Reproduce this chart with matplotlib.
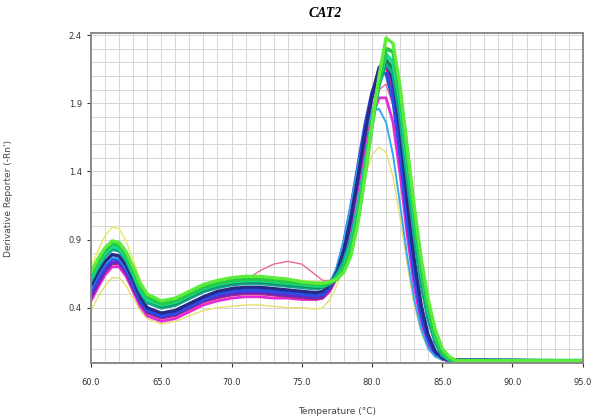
import matplotlib
matplotlib.use("Agg")
import matplotlib.pyplot as plt
from matplotlib.ticker import MultipleLocator, FormatStrFormatter

# temperature points (deg C) shared by all melt curves
temps = [60, 60.5, 61, 61.5, 62, 62.5, 63, 63.5, 64, 65, 66, 67, 68, 69, 70,
         71, 72, 73, 74, 75, 76, 76.5, 77, 77.5, 78, 78.5, 79, 79.5, 80, 80.5,
         81, 81.5, 82, 82.5, 83, 83.5, 84, 84.5, 85, 85.5, 86, 88, 90, 92, 95]

# derivative reporter values, one list per well colour
yellow_low = [0.38, 0.48, 0.56, 0.62, 0.62, 0.56, 0.47, 0.38, 0.32, 0.28, 0.30, 0.34, 0.38, 0.40, 0.41,
              0.42, 0.42, 0.41, 0.40, 0.40, 0.39, 0.40, 0.46, 0.56, 0.72, 0.92, 1.14, 1.36, 1.52, 1.58,
              1.54, 1.36, 1.06, 0.72, 0.42, 0.22, 0.10, 0.04, 0.02, 0.015, 0.015, 0.015, 0.015, 0.015, 0.015]
pink_bump = [0.50, 0.60, 0.69, 0.75, 0.74, 0.67, 0.56, 0.45, 0.38, 0.34, 0.36, 0.41, 0.46, 0.50, 0.54,
             0.60, 0.67, 0.72, 0.74, 0.72, 0.64, 0.60, 0.60, 0.66, 0.80, 1.02, 1.30, 1.58, 1.84, 2.00,
             2.04, 1.88, 1.50, 1.04, 0.62, 0.33, 0.15, 0.06, 0.02, 0.01, 0.01, 0.012, 0.012, 0.01, 0.01]
magenta = [0.45, 0.55, 0.64, 0.70, 0.70, 0.63, 0.52, 0.41, 0.34, 0.30, 0.32, 0.37, 0.42, 0.45, 0.47,
           0.48, 0.48, 0.47, 0.47, 0.46, 0.46, 0.47, 0.52, 0.62, 0.78, 1.00, 1.28, 1.56, 1.80, 1.94,
           1.94, 1.76, 1.38, 0.94, 0.56, 0.29, 0.13, 0.05, 0.02, 0.01, 0.01, 0.01, 0.01, 0.01, 0.01]
red = [0.47, 0.57, 0.66, 0.72, 0.72, 0.65, 0.54, 0.43, 0.36, 0.32, 0.34, 0.39, 0.44, 0.47, 0.49,
       0.50, 0.50, 0.49, 0.48, 0.47, 0.46, 0.47, 0.53, 0.63, 0.80, 1.04, 1.34, 1.66, 1.94, 2.12,
       2.16, 1.98, 1.58, 1.10, 0.66, 0.35, 0.16, 0.06, 0.02, 0.01, 0.01, 0.01, 0.01, 0.01, 0.01]
purple = [0.48, 0.58, 0.67, 0.73, 0.73, 0.66, 0.55, 0.44, 0.37, 0.33, 0.35, 0.40, 0.45, 0.48, 0.50,
          0.51, 0.51, 0.50, 0.49, 0.48, 0.47, 0.48, 0.54, 0.64, 0.80, 1.04, 1.34, 1.66, 1.94, 2.14,
          2.20, 2.04, 1.64, 1.14, 0.70, 0.38, 0.18, 0.07, 0.03, 0.015, 0.012, 0.012, 0.012, 0.01, 0.01]
blue = [0.52, 0.62, 0.70, 0.76, 0.75, 0.68, 0.57, 0.45, 0.38, 0.34, 0.36, 0.41, 0.46, 0.50, 0.52,
        0.53, 0.53, 0.52, 0.51, 0.50, 0.49, 0.50, 0.56, 0.68, 0.88, 1.14, 1.44, 1.74, 1.98, 2.12,
        2.12, 1.92, 1.52, 1.04, 0.64, 0.34, 0.16, 0.06, 0.03, 0.018, 0.015, 0.015, 0.015, 0.012, 0.01]
cyan = [0.54, 0.64, 0.72, 0.77, 0.76, 0.69, 0.58, 0.47, 0.40, 0.36, 0.38, 0.43, 0.48, 0.52, 0.54,
        0.55, 0.55, 0.54, 0.53, 0.52, 0.51, 0.52, 0.58, 0.70, 0.90, 1.16, 1.44, 1.68, 1.84, 1.86,
        1.76, 1.52, 1.16, 0.78, 0.46, 0.24, 0.10, 0.04, 0.02, 0.01, 0.01, 0.01, 0.01, 0.01, 0.01]
navy = [0.56, 0.66, 0.74, 0.79, 0.78, 0.71, 0.60, 0.48, 0.40, 0.36, 0.38, 0.43, 0.48, 0.52, 0.54,
        0.55, 0.55, 0.54, 0.53, 0.52, 0.51, 0.52, 0.57, 0.66, 0.82, 1.06, 1.36, 1.68, 1.96, 2.16,
        2.22, 2.08, 1.70, 1.20, 0.76, 0.42, 0.20, 0.08, 0.03, 0.015, 0.015, 0.015, 0.012, 0.01, 0.01]
teal = [0.60, 0.70, 0.78, 0.83, 0.82, 0.75, 0.64, 0.52, 0.44, 0.40, 0.42, 0.47, 0.52, 0.55, 0.57,
        0.58, 0.58, 0.57, 0.56, 0.55, 0.54, 0.55, 0.58, 0.64, 0.74, 0.90, 1.14, 1.44, 1.76, 2.04,
        2.20, 2.12, 1.80, 1.36, 0.94, 0.58, 0.32, 0.15, 0.05, 0.02, 0.01, 0.01, 0.01, 0.01, 0.01]
dark_green = [0.62, 0.73, 0.81, 0.86, 0.85, 0.78, 0.66, 0.54, 0.46, 0.41, 0.43, 0.48, 0.53, 0.56, 0.58,
              0.59, 0.59, 0.58, 0.57, 0.56, 0.55, 0.55, 0.57, 0.62, 0.71, 0.86, 1.10, 1.42, 1.76, 2.04,
              2.22, 2.16, 1.86, 1.42, 1.00, 0.62, 0.35, 0.16, 0.06, 0.02, 0.01, 0.01, 0.01, 0.01, 0.01]
spring = [0.62, 0.72, 0.80, 0.85, 0.84, 0.77, 0.66, 0.54, 0.46, 0.42, 0.44, 0.49, 0.54, 0.57, 0.59,
          0.60, 0.60, 0.59, 0.58, 0.57, 0.56, 0.56, 0.58, 0.62, 0.70, 0.86, 1.10, 1.42, 1.76, 2.06,
          2.26, 2.20, 1.90, 1.46, 1.04, 0.66, 0.38, 0.18, 0.07, 0.02, 0.01, 0.01, 0.01, 0.01, 0.01]
green = [0.64, 0.74, 0.82, 0.87, 0.86, 0.79, 0.68, 0.56, 0.48, 0.43, 0.45, 0.50, 0.55, 0.58, 0.60,
         0.61, 0.61, 0.60, 0.59, 0.58, 0.57, 0.57, 0.58, 0.61, 0.68, 0.82, 1.06, 1.38, 1.74, 2.06,
         2.30, 2.28, 1.98, 1.54, 1.10, 0.72, 0.42, 0.21, 0.08, 0.03, 0.01, 0.01, 0.01, 0.01, 0.01]
yellow_high = [0.70, 0.82, 0.93, 0.99, 0.98, 0.89, 0.75, 0.60, 0.50, 0.44, 0.46, 0.51, 0.56, 0.60, 0.62,
               0.63, 0.63, 0.62, 0.61, 0.60, 0.59, 0.59, 0.60, 0.63, 0.70, 0.84, 1.08, 1.40, 1.76, 2.08,
               2.32, 2.28, 1.96, 1.52, 1.10, 0.70, 0.41, 0.20, 0.08, 0.03, 0.02, 0.02, 0.02, 0.02, 0.015]
lime = [0.66, 0.76, 0.84, 0.89, 0.88, 0.81, 0.70, 0.58, 0.50, 0.45, 0.47, 0.52, 0.57, 0.60, 0.62,
        0.63, 0.63, 0.62, 0.61, 0.59, 0.58, 0.58, 0.59, 0.61, 0.66, 0.78, 1.02, 1.36, 1.74, 2.10,
        2.38, 2.34, 2.02, 1.58, 1.15, 0.76, 0.46, 0.24, 0.10, 0.04, 0.01, 0.01, 0.01, 0.01, 0.01]

curves = [
    (yellow_low, "#e6df6a", 1.0),
    (yellow_high, "#e8ea5c", 1.0),
    (pink_bump, "#e86a96", 1.0),
    (magenta, "#e62ad8", 2.0),
    (red, "#d82a5a", 1.6),
    (purple, "#6a28c0", 2.4),
    (blue, "#2a4ce8", 2.4),
    (cyan, "#35a8f5", 1.4),
    (navy, "#262a86", 2.4),
    (teal, "#14a690", 2.8),
    (dark_green, "#16784a", 2.0),
    (spring, "#14dc8c", 2.8),
    (green, "#26c84a", 2.8),
    (lime, "#5cec3a", 2.4),
]

fig = plt.figure(figsize=(5.91, 4.20), dpi=100)
ax = fig.add_axes([0.154, 0.136, 0.832, 0.785])

for vals, col, lw in curves:
    ax.plot(temps, vals, color=col, lw=lw, solid_capstyle="round", solid_joinstyle="round")

ax.set_xlim(60, 95)
ax.set_ylim(-0.005, 2.415)
ax.xaxis.set_major_locator(MultipleLocator(5))
ax.xaxis.set_minor_locator(MultipleLocator(1))
ax.set_yticks([0.4, 0.9, 1.4, 1.9, 2.4])
ax.yaxis.set_minor_locator(MultipleLocator(0.1))
ax.xaxis.set_major_formatter(FormatStrFormatter("%.1f"))
ax.yaxis.set_major_formatter(FormatStrFormatter("%.1f"))
ax.grid(which="both", color="#d6d6d6", lw=0.7)
ax.set_axisbelow(True)
ax.tick_params(which="major", labelsize=6, colors="#333333", length=3)
ax.tick_params(axis="x", which="major", pad=8)
ax.tick_params(which="minor", length=0)
for s in ax.spines.values():
    s.set_color("#8a8a8a")
    s.set_linewidth(1.4)

ax.set_xlabel("Temperature (\u00b0C)", fontsize=6.5, color="#444444", labelpad=14)
ax.set_ylabel("Derivative Reporter (-Rn')", fontsize=6.5, color="#444444", labelpad=40)
fig.text(0.55, 0.968, "CAT2", ha="center", va="center", fontsize=10,
         family="Liberation Serif", weight="bold", style="italic")

fig.savefig("out.png", dpi=100)
